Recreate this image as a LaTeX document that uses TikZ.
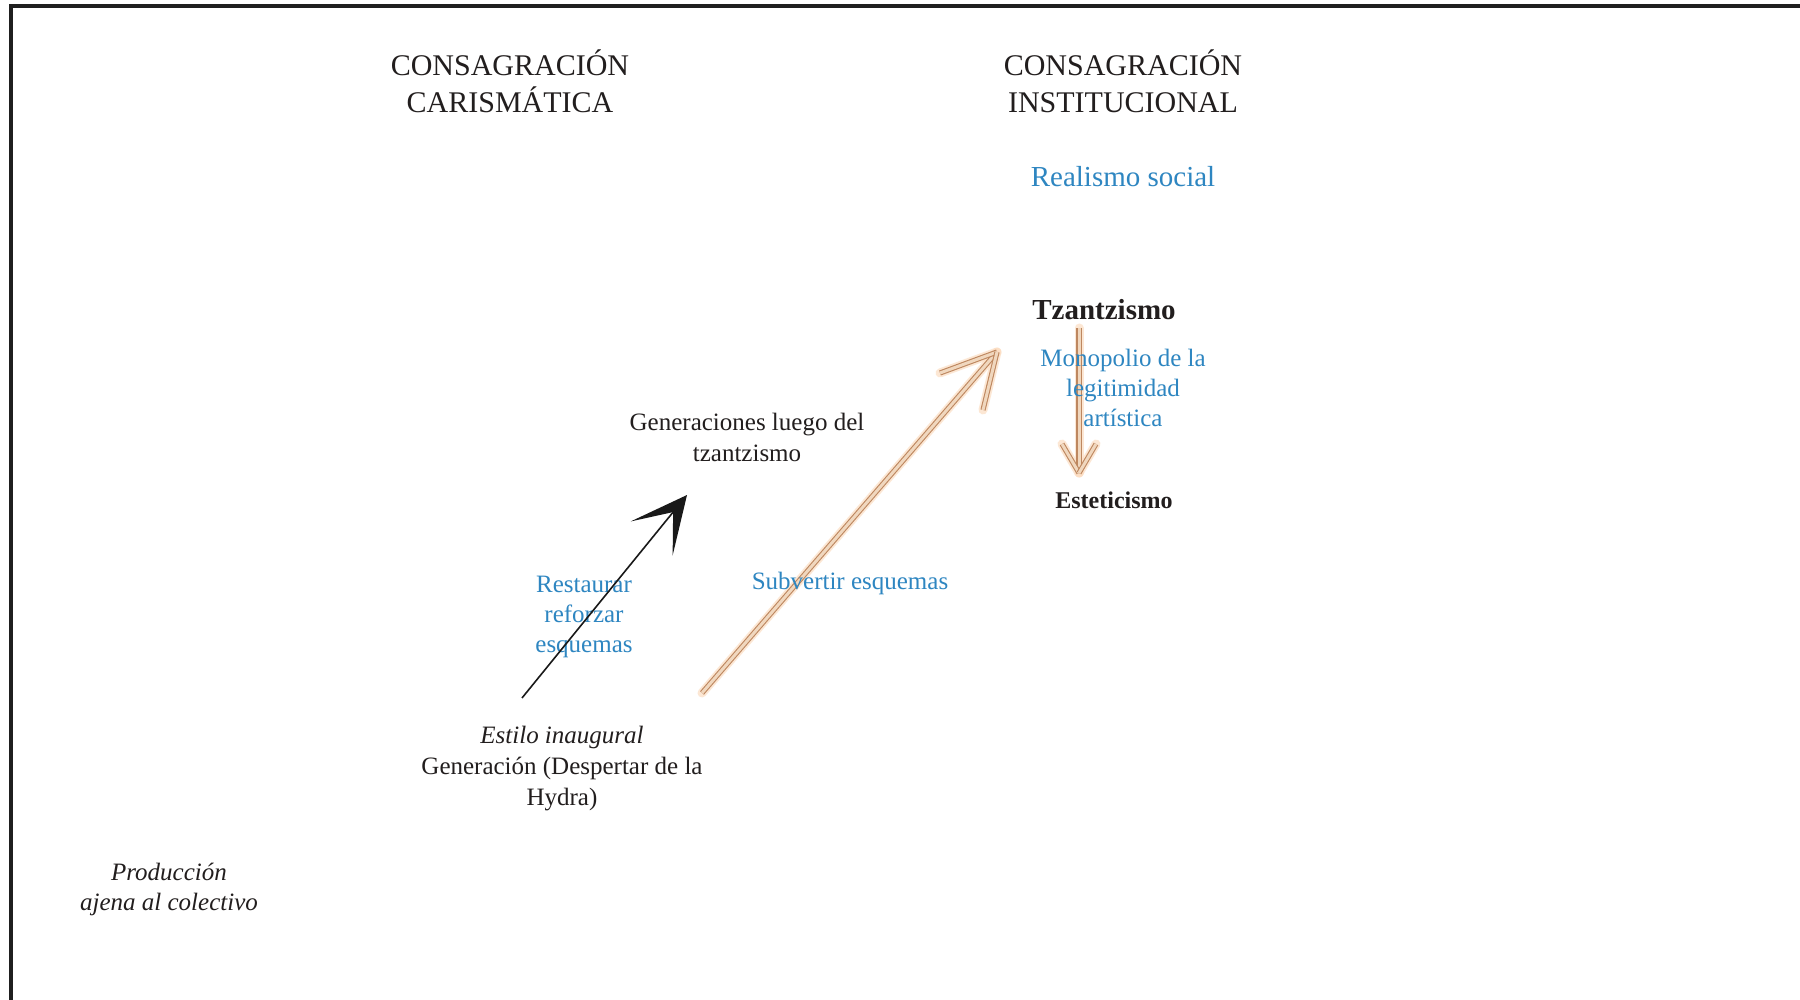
\documentclass[tikz,border=0pt]{standalone}
\usepackage{fontspec}
\setmainfont{Liberation Serif}
\usetikzlibrary{arrows.meta}
\definecolor{txtblue}{RGB}{46,134,193}
\definecolor{txtdark}{RGB}{34,30,30}
\definecolor{tanline}{RGB}{190,135,95}
\definecolor{tanfill}{RGB}{240,215,190}
\definecolor{tanglow}{RGB}{252,222,195}
\begin{document}
\begin{tikzpicture}[x=0.5pt,y=-0.5pt,
  lbl/.style={inner sep=0pt, align=center, text=txtdark, font=\fontsize{12.5pt}{15.5pt}\selectfont},
  headlbl/.style={inner sep=0pt, align=center, text=txtdark, font=\fontsize{15pt}{18.5pt}\selectfont},
  bluelbl/.style={lbl, text=txtblue, font=\fontsize{12.5pt}{15.2pt}\selectfont},
  blackarrow/.style={draw=black!90, line width=0.8pt, -{Stealth[length=28pt, width=27pt, inset=17pt]}},
  tanglowline/.style={draw=tanglow, line width=4.5pt, line cap=round, opacity=0.7},
  tanbar/.style={draw=tanline, line width=0.55pt, double=tanfill, double distance=1.5pt, line cap=butt}
]
\useasboundingbox (0,0) rectangle (1800,1000);
\fill[white] (0,0) rectangle (1800,1000);
\draw[line width=2pt, black!88] (11,1000) -- (11,6) -- (1800,6);

% orange diagonal arrow
\coordinate (o0) at (702,693);
\coordinate (o1) at (997,352);
\coordinate (o1a) at (940,373);
\coordinate (o1b) at (983,410);
% vertical arrow
\coordinate (v0) at (1079,328);
\coordinate (v1) at (1079,473);
\coordinate (v1a) at (1062,444);
\coordinate (v1b) at (1096,444);

\foreach \s/\e in {o0/o1, o1a/o1, o1b/o1, v0/v1, v1a/v1, v1b/v1}{
  \draw[tanglowline] (\s) -- (\e);
}
\foreach \s/\e in {o0/o1, o1a/o1, o1b/o1, v0/v1, v1a/v1, v1b/v1}{
  \draw[tanbar] (\s) -- (\e);
}

% headings
\node[headlbl] (headcar) at (510,81) {CONSAGRACIÓN\\CARISMÁTICA};
\node[headlbl] (headinst) at (1123,81) {CONSAGRACIÓN\\INSTITUCIONAL};

% right column
\node[bluelbl, font=\fontsize{14.5pt}{17pt}\selectfont] (realismo) at (1123,177) {Realismo social};
\node[lbl, font=\bfseries\fontsize{14.5pt}{17pt}\selectfont] (tzantz) at (1104,310) {Tzantzismo};
\node[bluelbl] (monop) at (1123,388) {Monopolio de la\\legitimidad\\artística};
\node[lbl, font=\bfseries\fontsize{12pt}{14pt}\selectfont] (estet) at (1114,500) {Esteticismo};

% middle
\node[lbl] (genluego) at (747,437) {Generaciones luego del\\tzantzismo};
\node[bluelbl] (restaurar) at (584,617) {Restaurar\\reforzar\\esquemas};
\node[bluelbl] (subvertir) at (850,583) {Subvertir esquemas};
\node[lbl] (estilo) at (562,769) {\textit{Estilo inaugural}\\Generación (Despertar de la\\Hydra)};
\node[lbl, font=\itshape\fontsize{12.5pt}{15pt}\selectfont] (produccion) at (169,889) {Producción\\ajena al colectivo};

% black arrow
\coordinate (b0) at (522,698);
\coordinate (b1) at (687,495);
\draw[blackarrow] (b0) -- (b1);
\end{tikzpicture}
\end{document}
